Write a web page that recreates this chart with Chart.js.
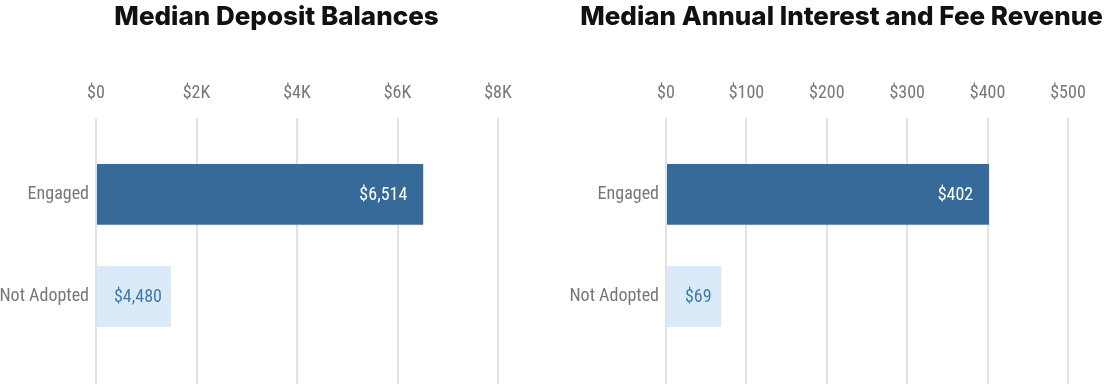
<!DOCTYPE html>
<html>
<head>
<meta charset="utf-8">
<script src="https://cdn.jsdelivr.net/npm/chart.js@4.4.0/dist/chart.umd.min.js"></script>
<style>
  html, body { margin: 0; padding: 0; background: #fff; overflow: hidden; }
  .wrap { display: flex; width: 1118px; height: 384px; }
  .box { position: relative; width: 553px; height: 384px; }
  .box + .box { margin-left: 12px; }
</style>
</head>
<body>
<div class="wrap">
  <div class="box"><canvas id="depositChart"></canvas></div>
  <div class="box"><canvas id="revenueChart"></canvas></div>
</div>
<script>
// data
const categories = ['Engaged', 'Not Adopted'];

const depositValues = [6514, 1490];          // bar length as drawn in the picture
const depositLabels = ['$6,514', '$4,480'];  // printed value labels
const depositTicks = [0, 2000, 4000, 6000, 8000];

const revenueValues = [402, 69];
const revenueLabels = ['$402', '$69'];
const revenueTicks = [0, 100, 200, 300, 400, 500];

const barColors = ['#366a98', '#dbeaf9'];
const barEdges = ['#7d9fc2', '#dbeaf9'];
const valueColors = ['#ffffff', '#3f7ba8'];

const COND = "'Roboto Condensed', 'Liberation Sans Narrow', 'DejaVu Sans Condensed', Roboto, sans-serif";
const GREY = '#777777';

// prints the value text inside each bar: at the end of long bars, centred in short ones
const valueLabels = {
  id: 'valueLabels',
  afterDatasetsDraw(chart, args, opts) {
    const ctx = chart.ctx;
    const meta = chart.getDatasetMeta(0);
    ctx.save();
    ctx.font = '18px ' + COND;
    ctx.textBaseline = 'middle';
    meta.data.forEach((bar, i) => {
      ctx.fillStyle = valueColors[i];
      if (bar.x - bar.base > 150) {
        ctx.textAlign = 'right';
        ctx.fillText(opts.texts[i], bar.x - 16, bar.y + 1);
      } else {
        ctx.textAlign = 'center';
        ctx.fillText(opts.texts[i], (bar.x + bar.base) / 2 + 4, bar.y + 1);
      }
    });
    ctx.restore();
  }
};

function makeChart(id, title, values, texts, ticks, fmt, yWidth, padRight) {
  return new Chart(document.getElementById(id), {
    type: 'bar',
    data: {
      datasets: [{
        data: values.map((v, i) => ({ x: v, y: i })),
        backgroundColor: barColors,
        borderColor: barEdges,
        borderWidth: { top: 0, right: 0, bottom: 1, left: 0 },
        borderSkipped: false,
        barThickness: 61
      }]
    },
    plugins: [valueLabels],
    options: {
      indexAxis: 'y',
      responsive: true,
      maintainAspectRatio: false,
      animation: false,
      layout: { padding: 0 },
      plugins: {
        legend: { display: false },
        tooltip: { enabled: false },
        title: {
          display: true,
          text: title,
          color: '#111',
          font: { family: 'Inter', size: 26, weight: 800 },
          padding: { top: 1.5, bottom: 36 }
        },
        valueLabels: { texts: texts }
      },
      scales: {
        x: {
          position: 'top',
          min: ticks[0],
          max: ticks[ticks.length - 1],
          afterBuildTicks: s => { s.ticks = ticks.map(v => ({ value: v })); },
          afterFit: s => { s.paddingRight = padRight; },
          grid: { color: '#e2e2e2', lineWidth: 2, drawTicks: false },
          border: { display: false },
          ticks: {
            padding: 14,
            color: GREY,
            font: { family: COND, size: 18 },
            callback: fmt
          }
        },
        y: {
          type: 'linear',
          reverse: true,
          offset: false,
          min: -0.746,
          max: 1.859,
          afterBuildTicks: s => { s.ticks = categories.map((c, i) => ({ value: i })); },
          afterFit: s => { s.width = yWidth; s.paddingTop = 0; s.paddingBottom = 0; },
          grid: { display: false, drawTicks: false },
          border: { display: false },
          ticks: {
            padding: 7,
            color: GREY,
            font: { family: COND, size: 18 },
            callback: v => categories[v]
          }
        }
      }
    }
  });
}

makeChart('depositChart', 'Median Deposit Balances', depositValues, depositLabels,
  depositTicks, v => v === 0 ? '$0' : '$' + (v / 1000) + 'K', 96, 55);

makeChart('revenueChart', 'Median Annual Interest and Fee Revenue', revenueValues, revenueLabels,
  revenueTicks, v => '$' + v, 101, 50);
</script>
</body>
</html>
